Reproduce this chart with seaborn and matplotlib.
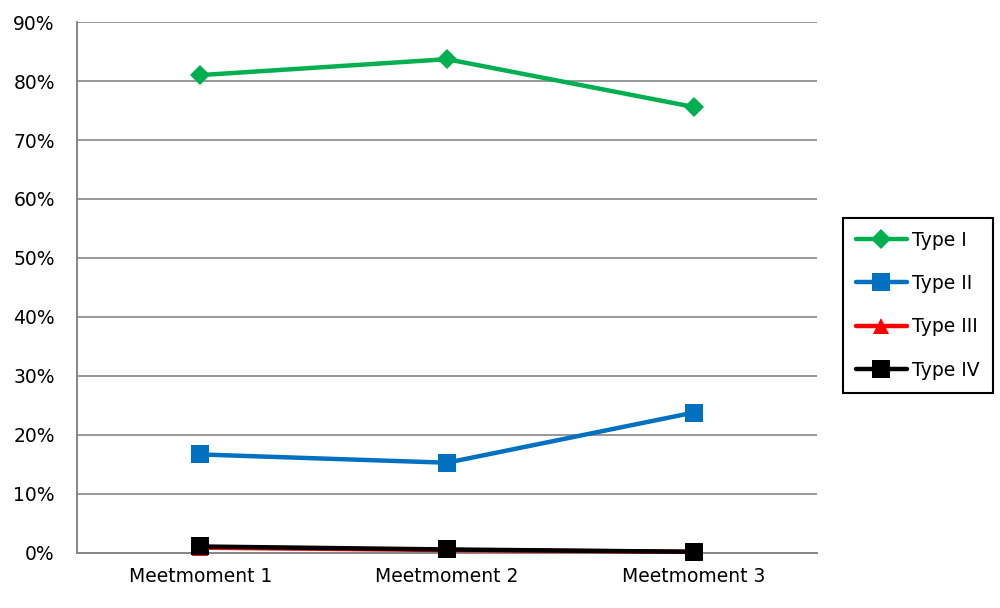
import numpy as np
import pandas as pd
import matplotlib
matplotlib.use("Agg")
import matplotlib.pyplot as plt
import seaborn as sns
from matplotlib.ticker import FixedLocator, PercentFormatter

# Datos (porcentajes)
momenten = ["Meetmoment 1", "Meetmoment 2", "Meetmoment 3"]
type_1 = [81.0, 83.7, 75.6]
type_2 = [16.7, 15.3, 23.8]
type_3 = [0.9, 0.5, 0.2]
type_4 = [1.1, 0.6, 0.2]
typen = ["Type I", "Type II", "Type III", "Type IV"]

kleuren = {"Type I": "#00B050", "Type II": "#0070C0",
           "Type III": "#FF0000", "Type IV": "#000000"}
markers = {"Type I": "D", "Type II": "s", "Type III": "^", "Type IV": "s"}
maten = {"Type I": 10, "Type II": 13, "Type III": 11, "Type IV": 13}

# formato largo para seaborn
pos = np.arange(len(momenten))
df = pd.concat([
    pd.DataFrame({"x": pos, "Waarde": vals, "Type": t})
    for t, vals in zip(typen, [type_1, type_2, type_3, type_4])
], ignore_index=True)

sns.set_style("white")
plt.rcParams["font.family"] = ["DejaVu Sans"]

fig = plt.figure(figsize=(10, 6.08), dpi=100)
ax = fig.add_axes([0.077, 0.0905, 0.740, 0.8733])

for t in typen:
    sub = df[df["Type"] == t]
    sns.lineplot(data=sub, x="x", y="Waarde", ax=ax, color=kleuren[t],
                 marker=markers[t], markersize=maten[t], markeredgewidth=0,
                 linewidth=3.2, label=t, zorder=3, clip_on=False)

ax.set_xlim(-0.5, len(momenten) - 0.5)
ax.set_ylim(0, 90)
ax.set_yticks(np.arange(0, 91, 10))
ax.yaxis.set_major_formatter(PercentFormatter(decimals=0))
ax.set_xticks(pos)
ax.set_xticklabels(momenten)
ax.xaxis.set_minor_locator(FixedLocator(pos[:-1] + 0.5))
ax.tick_params(axis="x", which="major", length=0, pad=10, labelsize=13.5, colors="black")
ax.tick_params(axis="x", which="minor", length=6, width=1.2, color="#868686", direction="out")
ax.tick_params(axis="y", length=7, width=1.2, color="#868686", direction="out", pad=9,
               labelsize=13.5, labelcolor="black")
ax.set_xlabel("")
ax.set_ylabel("")

ax.yaxis.grid(True, color="#868686", linewidth=1.2)
ax.set_axisbelow(True)
for s in ["top", "right"]:
    ax.spines[s].set_visible(False)
for s in ["left", "bottom"]:
    ax.spines[s].set_color("#868686")
    ax.spines[s].set_linewidth(1.4)

leg = ax.legend(loc="center left", bbox_to_anchor=(0.843, 0.498),
                bbox_transform=fig.transFigure, fontsize=13.5, frameon=True,
                fancybox=False, edgecolor="black", framealpha=1, borderaxespad=0,
                labelspacing=1.3, handlelength=2.7, handletextpad=0.3,
                borderpad=0.7, labelcolor="black")
leg.get_frame().set_linewidth(1.5)

fig.savefig("out.png", dpi=100)
